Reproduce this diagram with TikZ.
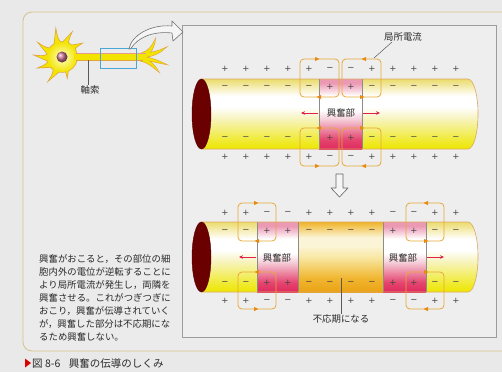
\documentclass[tikz,border=0pt]{standalone}
\usepackage{fontspec}
\setmainfont{Noto Sans CJK JP}
\newfontfamily\signfont{DejaVu Sans}
\usetikzlibrary{arrows.meta,calc}

\definecolor{pagebg}{HTML}{E9E9E9}
\definecolor{framebg}{HTML}{EBEBEB}
\definecolor{framec}{HTML}{D6C28C}
\definecolor{panelbg}{HTML}{EEEEEE}
\definecolor{panelc}{HTML}{9C9C9C}
\definecolor{loopc}{HTML}{E8A838}
\definecolor{markc}{HTML}{E88A10}
\definecolor{redarr}{HTML}{E0204A}
\definecolor{capred}{HTML}{6A0000}
\definecolor{cyledge}{HTML}{DCA864}
\definecolor{signc}{HTML}{444444}
\definecolor{boundc}{HTML}{8C8C8C}
\definecolor{textc}{HTML}{2A2A2A}
\definecolor{neuronfill}{HTML}{F2E400}
\definecolor{neuronedge}{HTML}{E2A43A}
\definecolor{axonpink}{HTML}{E89A90}
\definecolor{boxblue}{HTML}{4AA6D6}
\definecolor{arrowgray}{HTML}{707070}
\definecolor{nucleus}{HTML}{C8708E}

% membrane colour bands (bottom -> top, bounding box spans 25bp..75bp)
\definecolor{ya}{HTML}{EDE600}
\definecolor{yb}{HTML}{F0EA30}
\definecolor{yc}{HTML}{F7F4C0}
\definecolor{yd}{HTML}{EBDC6C}
\pgfdeclareverticalshading{cylyellow}{100bp}{color(0bp)=(ya); color(25bp)=(ya); color(31bp)=(yb); color(47bp)=(yc); color(55bp)=(white); color(63bp)=(white); color(75bp)=(yd); color(100bp)=(yd)}
\definecolor{pa}{HTML}{DF2A5E}
\definecolor{pb}{HTML}{E4466F}
\definecolor{pc}{HTML}{F6D4DE}
\definecolor{pd}{HTML}{EC9AB4}
\pgfdeclareverticalshading{excpink}{100bp}{color(0bp)=(pa); color(25bp)=(pa); color(32bp)=(pb); color(47bp)=(pc); color(53bp)=(white); color(63bp)=(white); color(72bp)=(pd); color(100bp)=(pd)}
\definecolor{oa}{HTML}{EBA214}
\definecolor{ob}{HTML}{F0B630}
\definecolor{oc}{HTML}{F8E8A4}
\definecolor{od}{HTML}{FBF4D6}
\definecolor{oe}{HTML}{EFB428}
\pgfdeclareverticalshading{refrorange}{100bp}{color(0bp)=(oa); color(25bp)=(oa); color(35bp)=(ob); color(50bp)=(oc); color(58bp)=(od); color(64bp)=(od); color(75bp)=(oe); color(100bp)=(oe)}

\tikzset{
  signlbl/.style={font=\signfont\fontsize{8.5}{8.5}\selectfont, text=signc, inner sep=0pt},
  lbl/.style={font=\fontsize{9.4}{11}\selectfont, text=textc, inner sep=0.5pt},
  para/.style={font=\fontsize{9.4}{13}\selectfont, text=textc, inner sep=0pt, anchor=base west},
  loopbox/.style={draw=loopc, line width=0.8pt, rounded corners=4pt},
  boundline/.style={draw=boundc, line width=0.6pt},
  leader/.style={draw=black!65, line width=0.5pt},
  exarrow/.style={draw=redarr, line width=0.7pt, -{Stealth[length=4pt,width=3.6pt]}},
}

% small orange arrow head on a current loop
\newcommand\loopmark[3]{\fill[markc,shift={(#1,#2)},rotate=#3] (2.4,0) -- (-2,2.1) -- (-2,-2.1) -- cycle;}
% one row of charges along the membrane
\newcommand\chargerow[2]{\foreach \s [count=\i from 0] in {#2} \node[signlbl] at (225+21*\i,#1) {\s};}
% cylinder body with rounded right end
\newcommand\cylbody[2]{(201,#1) -- (468,#1) arc[start angle=-90,end angle=90,x radius=10,y radius=35] -- (201,#2) -- cycle}
% tapered, slightly curling dendrite of the cell body
\newcommand\spk[2]{($(soma)+(#1-22:12)$) .. controls ($(soma)+(#1-4:0.7*#2)$) .. ($(soma)+(#1+7:#2)$) .. controls ($(soma)+(#1+6:0.7*#2)$) .. ($(soma)+(#1+22:12)$) -- cycle}

\begin{document}
\begin{tikzpicture}[x=1pt,y=-1pt]
\fill[pagebg] (0,0) rectangle (502,372);
\useasboundingbox (0,0) rectangle (502,372);

% frames
\draw[framec, fill=framebg, rounded corners=9pt, line width=0.8pt] (23,12) rectangle (530,351);
\draw[panelc, fill=panelbg, line width=0.7pt] (182,25) rectangle (496,337);

% ---------- neuron ----------
\coordinate (soma) at (62,57);
\def\dendrites{250/27,284/25,318/23,203/26,176/26,148/25,112/26,68/20}
% outline pass
\foreach \a/\l in \dendrites {\filldraw[neuronedge, line width=1.4pt] \spk{\a}{\l};}
\filldraw[neuronedge, line width=1.4pt] (soma) circle[radius=15];
\filldraw[neuronedge, line width=1.2pt] (142,53) .. controls (149,51) and (152,46) .. (155,40) .. controls (154,48) and (150,54) .. (146,56) -- cycle;
\filldraw[neuronedge, line width=1.2pt] (144,53) .. controls (152,53) and (159,51) .. (165,48) .. controls (160,53) and (153,56) .. (146,57) -- cycle;
\filldraw[neuronedge, line width=1.2pt] (144,57) .. controls (152,58) and (159,61) .. (165,64) .. controls (159,63) and (152,61) .. (144,60) -- cycle;
\filldraw[neuronedge, line width=1.2pt] (141,59) .. controls (149,59) and (154,64) .. (158,71) .. controls (152,66) and (147,62) .. (141,61) -- cycle;
% fill pass
\foreach \a/\l in \dendrites {\fill[neuronfill] \spk{\a}{\l};}
\fill[neuronfill] (142,53) .. controls (149,51) and (152,46) .. (155,40) .. controls (154,48) and (150,54) .. (146,56) -- cycle;
\fill[neuronfill] (144,53) .. controls (152,53) and (159,51) .. (165,48) .. controls (160,53) and (153,56) .. (146,57) -- cycle;
\fill[neuronfill] (144,57) .. controls (152,58) and (159,61) .. (165,64) .. controls (159,63) and (152,61) .. (144,60) -- cycle;
\fill[neuronfill] (141,59) .. controls (149,59) and (154,64) .. (158,71) .. controls (152,66) and (147,62) .. (141,61) -- cycle;
\shade[inner color=yellow!20, outer color=neuronfill] (soma) circle[radius=15];
% axon
\fill[neuronfill] (74,53) rectangle (146,60);
\draw[axonpink, line width=1pt] (76,53.4) -- (146,53.4);
\draw[neuronedge, line width=0.4pt] (76,60) -- (143,60);
% nucleus
\shade[ball color=nucleus] (soma) circle[radius=5.5];
% magnified section
\draw[boxblue, line width=0.8pt] (100,48) rectangle (136,68);
% axon label
\node[lbl] (axlbl) at (90,90) {軸索};
\coordinate (axpt) at (88,60);
\draw[leader] (axpt) -- (axlbl.north -| axpt);
% curved hollow arrow into the panel
\draw[arrowgray, fill=white!96!black, line width=0.6pt, line join=round]
  (129,49) .. controls (131,36) and (150,24) .. (172,26) -- (172,21) -- (183,32)
  -- (173,41) -- (172,33) .. controls (153,31) and (138,37) .. (130.5,49) -- cycle;

% ---------- upper membrane ----------
\shade[shading=cylyellow] \cylbody{79}{149};
\shade[shading=excpink] (319,79) rectangle (362,149);
\draw[boundline] (319,79) -- (319,149);
\draw[boundline] (362,79) -- (362,149);
\draw[cyledge, line width=0.6pt] \cylbody{79}{149};
\filldraw[capred, draw=capred!80!black, line width=0.4pt] (201.5,114) ellipse[x radius=9.5, y radius=35];

\chargerow{69}{+,+,+,+,+,−,−,+,+,+,+,+}
\chargerow{87}{−,−,−,−,−,+,+,−,−,−,−,−}
\chargerow{138}{−,−,−,−,−,+,+,−,−,−,−,−}
\chargerow{157}{+,+,+,+,+,−,−,+,+,+,+,+}

\draw[loopbox] (300,59) rectangle (339,97);
\draw[loopbox] (342,59) rectangle (381,97);
\draw[loopbox] (300,128) rectangle (339,166);
\draw[loopbox] (342,128) rectangle (381,166);
\loopmark{317}{59}{0}   \loopmark{319}{97}{180}
\loopmark{364}{59}{180} \loopmark{362}{97}{0}
\loopmark{317}{166}{0}  \loopmark{319}{128}{180}
\loopmark{364}{166}{180}\loopmark{362}{128}{0}

\node[lbl] (exc1) at (341,113) {興奮部};
\coordinate (e1l) at (318,113); \coordinate (e1lt) at (301,113);
\coordinate (e1r) at (363,113); \coordinate (e1rt) at (380,113);
\draw[exarrow] (e1l) -- (e1lt);
\draw[exarrow] (e1r) -- (e1rt);

\node[lbl] (curlbl) at (403,37) {局所電流};
\coordinate (curpt) at (374,58);
\draw[leader] (curpt) -- (curlbl.south west -| 392,0);

% transition arrow
\draw[arrowgray!90!black, fill=white!96!black, line width=0.6pt, line join=round]
  (336,174) -- (343,174) -- (343,188) -- (348,188) -- (339.5,197) -- (331,188) -- (336,188) -- cycle;

% ---------- lower membrane ----------
\shade[shading=cylyellow] \cylbody{222}{292};
\shade[shading=excpink] (257,222) rectangle (298,292);
\shade[shading=refrorange] (298,222) rectangle (383,292);
\shade[shading=excpink] (383,222) rectangle (426,292);
\foreach \xb in {257,298,383,426} \draw[boundline] (\xb,222) -- (\xb,292);
\draw[cyledge, line width=0.6pt] \cylbody{222}{292};
\filldraw[capred, draw=capred!80!black, line width=0.4pt] (201.5,257) ellipse[x radius=9.5, y radius=35];

\chargerow{213}{+,+,−,−,+,+,+,+,−,−,+,+}
\chargerow{231}{−,−,+,+,−,−,−,−,+,+,−,−}
\chargerow{283}{−,−,+,+,−,−,−,−,+,+,−,−}
\chargerow{301}{+,+,−,−,+,+,+,+,−,−,+,+}

\draw[loopbox] (238,203) rectangle (276,241);
\draw[loopbox] (238,272) rectangle (276,309);
\draw[loopbox] (406,203) rectangle (444,241);
\draw[loopbox] (406,272) rectangle (444,309);
\loopmark{256}{203}{0}   \loopmark{257}{241}{180}
\loopmark{256}{309}{0}   \loopmark{257}{272}{180}
\loopmark{426}{203}{180} \loopmark{426}{241}{0}
\loopmark{426}{309}{180} \loopmark{426}{272}{0}

\node[lbl] (exc2) at (277,258) {興奮部};
\node[lbl] (exc3) at (403,258) {興奮部};
\coordinate (e2s) at (256,257); \coordinate (e2t) at (239,257);
\coordinate (e3s) at (427,257); \coordinate (e3t) at (444,257);
\draw[exarrow] (e2s) -- (e2t);
\draw[exarrow] (e3s) -- (e3t);

\node[lbl] (reflbl) at (341,319) {不応期になる};
\coordinate (refpt) at (341,278);
\draw[leader] (refpt) -- (reflbl.north);

% ---------- explanation ----------
\foreach \t [count=\i from 0] in {興奮がおこると，その部位の細, 胞内外の電位が逆転することに, より局所電流が発生し，両隣を, 興奮させる。これがつぎつぎに, おこり，興奮が伝導されていく, が，興奮した部分は不応期にな, るため興奮しない。}
  \node[para] (line\i) at (39,262.5+13*\i) {\t};

% caption
\fill[red!85!black] (25,358.5) -- (31,363) -- (25,367.5) -- cycle;
\node[para, font=\fontsize{10.5}{12}\selectfont] (cap) at (32,367) {図 8-6\hspace{0.8em}興奮の伝導のしくみ};
\end{tikzpicture}
\end{document}
